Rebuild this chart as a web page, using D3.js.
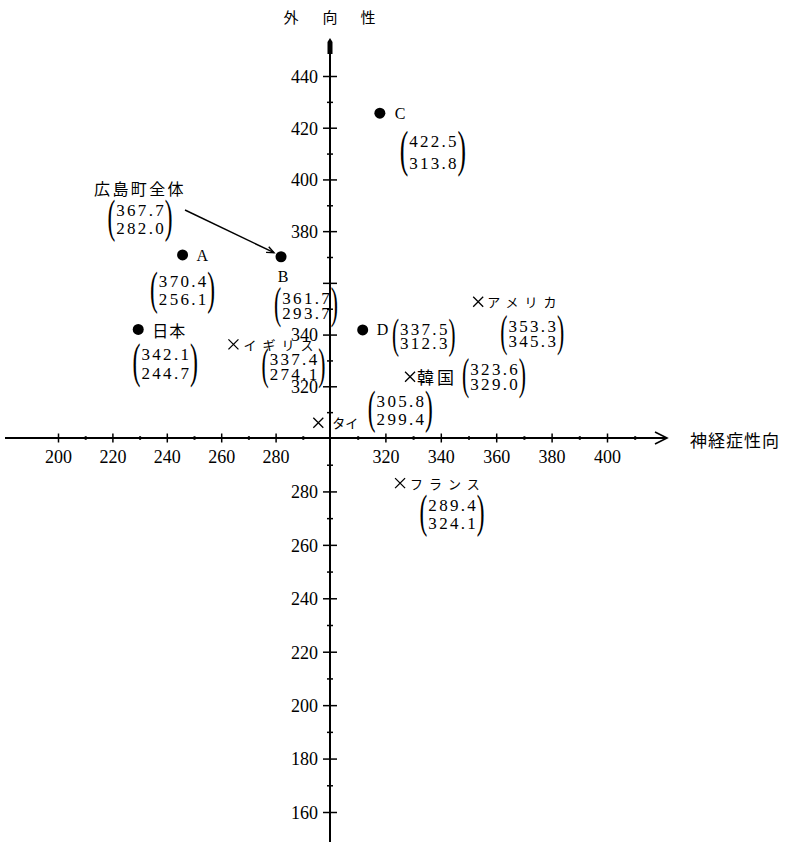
<!DOCTYPE html>
<html><head><meta charset="utf-8">
<script src="https://cdn.jsdelivr.net/npm/d3@7"></script>
<style>body{margin:0;background:#fff}svg{display:block}</style>
</head><body><svg id="c" width="786" height="842"></svg>
<script>
// ---------- data ----------
const xTicks = [200,220,240,260,280,320,340,360,380,400];
const xMinor = [210,230,250,270,290,310,330,350,370,390,410];
const yTicks = [440,420,400,380,340,320,280,260,240,220,200,180,160];
const yMajorNoLabel = [360];
const yMinor = [430,410,390,370,350,330,310,290,270,250,230,210,190,170];
const xTitle = "神経症性向";
const yTitle = ["外","向","性"];

const pointNames = ["A","B","C","D","日本"];
const pointNeuro = [245.8,282.0,318.0,311.8,229.5];
const pointExtra = [370.8,370.1,425.6,341.8,342.0];
const pointTop = ["370.4","361.7","422.5","337.5","342.1"];
const pointBottom = ["256.1","293.7","313.8","312.3","244.7"];

const countryNames = ["アメリカ","イギリス","韓国","タイ","フランス"];
const countryNeuro = [353.5,264.5,328.9,295.7,325.3];
const countryExtra = [352.7,336.2,323.7,305.9,283.1];
const countryTop = ["353.3","337.4","323.6","305.8","289.4"];
const countryBottom = ["345.3","274.1","329.0","299.4","324.1"];

const totalName = "広島町全体";
const totalTop = "367.7";
const totalBottom = "282.0";
const totalTarget = "B";

// ---------- layout (pixels) ----------
const pointLayout = {
  "A":   {nx:14, ny:1,  anchor:"start",  font:"serif", fs:16, ls:0, bx:0,  by:27, gap:18},
  "B":   {nx:2,  ny:20, anchor:"middle", font:"serif", fs:16, ls:0, bx:25, by:42, gap:15},
  "C":   {nx:15, ny:0,  anchor:"start",  font:"serif", fs:16, ls:0, bx:53, by:28, gap:22},
  "D":   {nx:14, ny:0,  anchor:"start",  font:"serif", fs:16, ls:0, bx:61, by:0,  gap:14},
  "日本": {nx:14, ny:1,  anchor:"start",  font:"cjk",   fs:16, ls:1, bx:27, by:25, gap:19}
};
const countryLayout = {
  "アメリカ": {nx:9,  ny:0, fs:13, ls:6, bx:54, by:25,  gap:15},
  "イギリス": {nx:10, ny:0, fs:13, ls:6, bx:60, by:15,  gap:15},
  "韓国":    {nx:7,  ny:0, fs:17, ls:3, bx:84, by:-7,  gap:15},
  "タイ":    {nx:14, ny:0, fs:13, ls:0, bx:82, by:-21, gap:18},
  "フランス": {nx:10, ny:0, fs:13, ls:6, bx:52, by:22,  gap:18}
};
const totalLayout = {tx:94, ty:188, bx:140, by:210, gap:18, ax1:185, ay1:210};

const SERIF = "'Liberation Serif','Times New Roman',serif";
const CJK = "'Noto Sans CJK JP','Noto Sans CJK SC',sans-serif";

// ---------- scales ----------
const x = d3.scaleLinear().domain([200,300,400]).range([58,330,607]);
const y = d3.scaleLinear().domain([160,300,440]).range([812,438,76]);

const svg = d3.select("#c");
svg.append("rect").attr("width",786).attr("height",842).attr("fill","#fff");

const X0 = x(300), Y0 = y(300);

// axes lines
svg.append("line").attr("x1",5).attr("x2",666).attr("y1",Y0).attr("y2",Y0)
  .attr("stroke","#000").attr("stroke-width",2);
svg.append("path").attr("d",`M${655},${Y0-6}L${667},${Y0}L${655},${Y0+6}`)
  .attr("fill","none").attr("stroke","#000").attr("stroke-width",1.6);
svg.append("line").attr("x1",X0).attr("x2",X0).attr("y1",42).attr("y2",842)
  .attr("stroke","#000").attr("stroke-width",2);
svg.append("path").attr("d",`M${X0-2.5},54L${X0-2.5},42L${X0},38L${X0+2.5},42L${X0+2.5},54Z`).attr("fill","#000");

// x axis ticks
const gx = svg.append("g").attr("transform",`translate(0,${Y0})`)
  .call(d3.axisBottom(x).tickValues(xTicks).tickSize(5));
gx.select(".domain").remove();
gx.selectAll(".tick line").attr("y1",-4.5).attr("y2",4.5).attr("stroke-width",1.5);
gx.selectAll(".tick text").attr("y",19).attr("dy","0.35em")
  .attr("font-family",SERIF).attr("font-size",18).attr("fill","#000");
const gxm = svg.append("g").attr("transform",`translate(0,${Y0})`)
  .call(d3.axisBottom(x).tickValues(xMinor).tickSize(2).tickFormat(""));
gxm.select(".domain").remove();
gxm.selectAll(".tick line").attr("y1",-1.8).attr("y2",1.8).attr("stroke-width",2);

// y axis ticks
const gy = svg.append("g").attr("transform",`translate(${X0},0)`)
  .call(d3.axisLeft(y).tickValues(yTicks).tickSize(7));
gy.select(".domain").remove();
gy.selectAll(".tick line").attr("x1",-7).attr("x2",7).attr("stroke-width",1.5);
gy.selectAll(".tick text").attr("x",-12).attr("dy","0.35em")
  .attr("font-family",SERIF).attr("font-size",18).attr("fill","#000");
const gy2 = svg.append("g").attr("transform",`translate(${X0},0)`)
  .call(d3.axisLeft(y).tickValues(yMajorNoLabel).tickSize(7).tickFormat(""));
gy2.select(".domain").remove();
gy2.selectAll(".tick line").attr("x1",-7).attr("x2",7).attr("stroke-width",1.5);
const gym = svg.append("g").attr("transform",`translate(${X0},0)`)
  .call(d3.axisLeft(y).tickValues(yMinor).tickSize(3).tickFormat(""));
gym.select(".domain").remove();
gym.selectAll(".tick line").attr("x1",-3).attr("x2",3).attr("stroke-width",1.5);

// titles
const yt = svg.append("text").attr("font-family",CJK).attr("font-size",15).attr("fill","#000")
  .attr("dominant-baseline","central");
const ytX = [291,330,368];
yTitle.forEach((c,i)=>yt.append("tspan").attr("x",ytX[i]).attr("y",16).attr("text-anchor","middle").text(c));
svg.append("text").attr("x",690).attr("y",Y0+1).attr("dominant-baseline","central")
  .attr("font-family",CJK).attr("font-size",17).attr("letter-spacing",1).attr("fill","#000").text(xTitle);

// parenthesised value block
function valueBlock(cx, y1, gap, top, bottom){
  const g = svg.append("g");
  const fsN = 17, ls = 2.3;
  const t1 = g.append("text").attr("x",cx).attr("y",y1).text(top);
  const t2 = g.append("text").attr("x",cx).attr("y",y1+gap).text(bottom);
  [t1,t2].forEach(t=>t.attr("text-anchor","middle").attr("dominant-baseline","central")
    .attr("font-family",SERIF).attr("font-size",fsN).attr("letter-spacing",ls).attr("fill","#000")
    .attr("dx",ls/2));
  const w = Math.max(t1.node().getComputedTextLength(), t2.node().getComputedTextLength()) - ls;
  const left = cx - w/2, right = cx + w/2;
  const h = gap + 24;
  const pf = h/0.9;
  const yc = y1 + gap/2;
  const base = yc + 0.27*pf;
  g.append("text").attr("transform",`translate(${left-1},${base}) scale(0.5,1)`)
    .attr("text-anchor","end").attr("font-family",SERIF).attr("font-size",pf).attr("fill","#000").text("(");
  g.append("text").attr("transform",`translate(${right+1},${base}) scale(0.5,1)`)
    .attr("text-anchor","start").attr("font-family",SERIF).attr("font-size",pf).attr("fill","#000").text(")");
}

// dot points
pointNames.forEach((n,i)=>{
  const px = x(pointNeuro[i]), py = y(pointExtra[i]);
  const L = pointLayout[n];
  svg.append("circle").attr("cx",px).attr("cy",py).attr("r",5.5).attr("fill","#000");
  svg.append("text").attr("x",px+L.nx).attr("y",py+L.ny).attr("text-anchor",L.anchor)
    .attr("dominant-baseline","central")
    .attr("font-family",L.font==="cjk"?CJK:SERIF).attr("font-size",L.fs).attr("letter-spacing",L.ls)
    .attr("fill","#000").text(n);
  valueBlock(px+L.bx, py+L.by, L.gap, pointTop[i], pointBottom[i]);
});

// country crosses
countryNames.forEach((n,i)=>{
  const px = x(countryNeuro[i]), py = y(countryExtra[i]);
  const L = countryLayout[n];
  const s = 5;
  svg.append("path").attr("d",`M${px-s},${py-s}L${px+s},${py+s}M${px-s},${py+s}L${px+s},${py-s}`)
    .attr("stroke","#000").attr("stroke-width",1.3).attr("fill","none");
  svg.append("text").attr("x",px+L.nx).attr("y",py+L.ny).attr("dominant-baseline","central")
    .attr("font-family",CJK).attr("font-size",L.fs).attr("letter-spacing",L.ls)
    .attr("fill","#000").text(n);
  valueBlock(px+L.bx, py+L.by, L.gap, countryTop[i], countryBottom[i]);
});

// total annotation
{
  const ti = pointNames.indexOf(totalTarget);
  const tx = x(pointNeuro[ti]), ty = y(pointExtra[ti]);
  svg.append("text").attr("x",totalLayout.tx).attr("y",totalLayout.ty).attr("dominant-baseline","central")
    .attr("font-family",CJK).attr("font-size",16).attr("letter-spacing",2.4).attr("fill","#000").text(totalName);
  valueBlock(totalLayout.bx, totalLayout.by, totalLayout.gap, totalTop, totalBottom);
  const ex = tx - 7, ey = ty - 4;
  const ang = Math.atan2(ey-totalLayout.ay1, ex-totalLayout.ax1);
  svg.append("line").attr("x1",totalLayout.ax1).attr("y1",totalLayout.ay1).attr("x2",ex).attr("y2",ey)
    .attr("stroke","#000").attr("stroke-width",1.4);
  const hl = 8, ha = 0.4;
  svg.append("path").attr("d",
    `M${ex-hl*Math.cos(ang-ha)},${ey-hl*Math.sin(ang-ha)}L${ex},${ey}L${ex-hl*Math.cos(ang+ha)},${ey-hl*Math.sin(ang+ha)}`)
    .attr("fill","none").attr("stroke","#000").attr("stroke-width",1.4);
}
</script></body></html>
